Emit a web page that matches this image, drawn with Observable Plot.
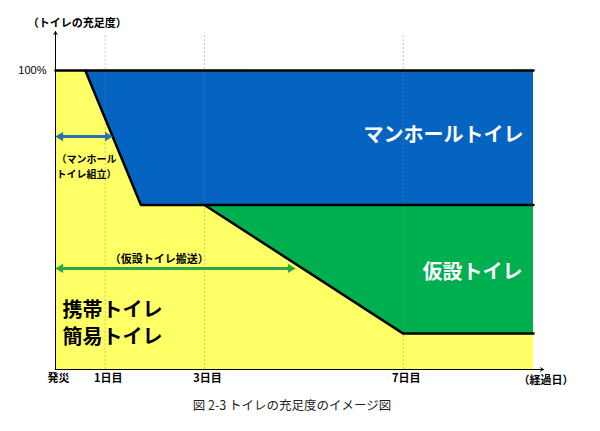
<!DOCTYPE html>
<html><head><meta charset="utf-8">
<script src="https://cdn.jsdelivr.net/npm/d3@7"></script>
<script src="https://cdn.jsdelivr.net/npm/@observablehq/plot@0.6"></script>
<style>
body{margin:0;background:#fff;font-family:"Noto Sans CJK JP",sans-serif;}
#caption{width:600px;text-align:center;font-size:12.5px;line-height:20px;color:#222;padding-right:16px;box-sizing:border-box;font-family:"Noto Sans CJK JP",sans-serif;}
</style></head><body>
<div id="chart"></div>
<div id="caption">図 2-3 トイレの充足度のイメージ図</div>
<script>
const JP = "Noto Sans CJK JP";
// x: days after the disaster, y: sufficiency (%)
const dayTicks = [0, 1, 3, 7];
const dayLabels = ["発災", "1日目", "3日目", "7日目"];
const gridDays = [1, 3, 7];
const xEnd = 9.62;
const fullLevel = 100;
const percentTicks = [100];

// 携帯・簡易トイレ (yellow base)
const portableX = [0, xEnd];
// マンホールトイレ (blue), lower boundary
const manholeX = [0.6, 1.72, xEnd];
const manholeLower = [100, 55, 55];
// 仮設トイレ (green), lower boundary (upper = manhole plateau)
const tempX = [3, 7, xEnd];
const tempLower = [55, 12, 12];
const tempUpper = [55, 55, 55];

// double-headed arrows
const arrowNames = ["manhole", "temp"];
const arrowStart = [0, 0];
const arrowEnd = [1.15, 4.83];
const arrowLevel = [77.9, 33.8];
const arrowColor = ["#2a6fb4", "#2aa847"];

// text annotations
const bigLabels = ["マンホールトイレ", "仮設トイレ"];
const bigLabelX = [9.42, 9.4];
const bigLabelY = [78.3, 32.4];
const portableLabel = ["携帯トイレ\n簡易トイレ"];
const portableLabelX = [0.14];
const portableLabelY = [15.9];
const manholeNote = ["（マンホール\nトイレ組立）"];
const manholeNoteX = [0.02];
const manholeNoteY = [68.2];
const tempNote = ["（仮設トイレ搬送）"];
const tempNoteX = [2.09];
const tempNoteY = [36.8];
const yTitle = ["（トイレの充足度）"];
const yTitleX = [0.44];
const yTitleY = [115.7];
const xTitle = ["（経過日）"];
const xTitleX = [9.87];
const axisTop = 113;
const axisRight = 9.82;
const gridTop = 112;

const portable = portableX.map(x => ({x, lo: 0, hi: fullLevel}));
const manhole = manholeX.map((x, i) => ({x, lo: manholeLower[i], hi: fullLevel}));
const temp = tempX.map((x, i) => ({x, lo: tempLower[i], hi: tempUpper[i]}));
const arrows = arrowNames.map((n, i) => ({n, x1: arrowStart[i], x2: arrowEnd[i], y: arrowLevel[i], c: arrowColor[i]}));

const plot = Plot.plot({
  width: 600,
  height: 395,
  marginLeft: 55,
  marginRight: 67,
  marginTop: 70,
  marginBottom: 26,
  x: {domain: [0, xEnd]},
  y: {domain: [0, fullLevel]},
  style: {fontFamily: JP, background: "white"},
  marks: [
    Plot.areaY(portable, {x: "x", y1: "lo", y2: "hi", fill: "#ffff66"}),
    Plot.areaY(manhole, {x: "x", y1: "lo", y2: "hi", fill: "#0563c1"}),
    Plot.areaY(temp, {x: "x", y1: "lo", y2: "hi", fill: "#00b050"}),
    Plot.ruleX(gridDays, {x: d => d, y1: 0, y2: gridTop, stroke: "#8a8a8a", strokeOpacity: 0.6, strokeWidth: 0.8, strokeDasharray: "2,2"}),
    Plot.line(portableX, {x: d => d, y: fullLevel, stroke: "black", strokeWidth: 2.5}),
    Plot.line(manhole, {x: "x", y: "lo", stroke: "black", strokeWidth: 2.5, strokeLinejoin: "miter"}),
    Plot.line(temp, {x: "x", y: "lo", stroke: "black", strokeWidth: 2.5, strokeLinejoin: "miter"}),
    Plot.arrow([0], {x1: 0, y1: 0, x2: 0, y2: axisTop, stroke: "black", strokeWidth: 1, headLength: 5}),
    Plot.arrow([0], {x1: 0, y1: 0, x2: axisRight, y2: 0, stroke: "black", strokeWidth: 1, headLength: 5}),
    Plot.arrow(arrows, {x1: "x1", y1: "y", x2: "x2", y2: "y", stroke: "c", strokeWidth: 3, headLength: 0, insetStart: 5, insetEnd: 5}),
    Plot.dot(arrows, {x: "x1", y: "y", symbol: "triangle", rotate: -90, r: 3.4, fill: "c", stroke: "none", dx: 5}),
    Plot.dot(arrows, {x: "x2", y: "y", symbol: "triangle", rotate: 90, r: 3.4, fill: "c", stroke: "none", dx: -5}),
    Plot.text(bigLabels, {x: (d, i) => bigLabelX[i], y: (d, i) => bigLabelY[i], text: d => d, textAnchor: "end", fill: "white", fontSize: 20, fontWeight: "bold", fontFamily: JP}),
    Plot.text(portableLabel, {x: (d, i) => portableLabelX[i], y: (d, i) => portableLabelY[i], text: d => d, textAnchor: "start", fill: "black", fontSize: 20, fontWeight: "bold", lineHeight: 1.35, fontFamily: JP}),
    Plot.text(manholeNote, {x: (d, i) => manholeNoteX[i], y: (d, i) => manholeNoteY[i], text: d => d, textAnchor: "start", fill: "black", fontSize: 10, fontWeight: "bold", lineHeight: 1.55, fontFamily: JP}),
    Plot.text(tempNote, {x: (d, i) => tempNoteX[i], y: (d, i) => tempNoteY[i], text: d => d, textAnchor: "middle", fill: "black", fontSize: 11, fontWeight: "bold", fontFamily: JP}),
    Plot.text(yTitle, {x: (d, i) => yTitleX[i], y: (d, i) => yTitleY[i], text: d => d, textAnchor: "middle", fill: "black", fontSize: 11, fontWeight: "bold", fontFamily: JP}),
    Plot.text(xTitle, {x: (d, i) => xTitleX[i], y: 0, text: d => d, dy: 11, textAnchor: "middle", fill: "black", fontSize: 11, fontWeight: "bold", fontFamily: JP}),
    Plot.axisX({ticks: dayTicks, tickFormat: d => dayLabels[dayTicks.indexOf(d)], tickSize: 0, tickPadding: 5, fontSize: 11, fontWeight: "bold", fontFamily: JP, label: null, dx: 3, fill: "black"}),
    Plot.axisY({ticks: percentTicks, tickFormat: d => d + "%", tickSize: 0, tickPadding: 9, fontSize: 11, fontFamily: "Liberation Sans", label: null, fill: "black"})
  ]
});
document.getElementById("chart").appendChild(plot);
</script>
</body></html>
